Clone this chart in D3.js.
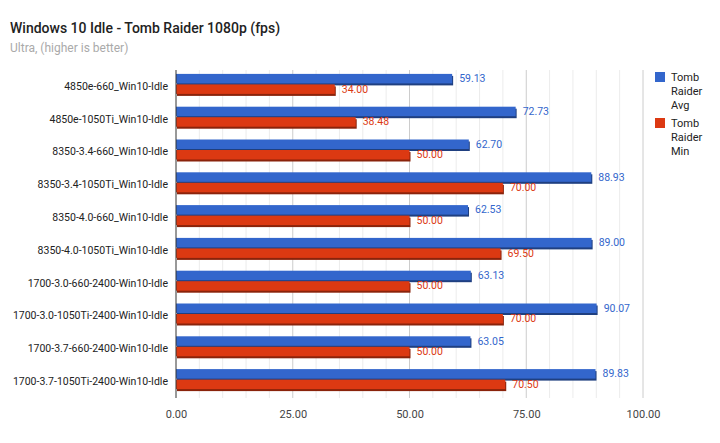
<!DOCTYPE html>
<html><head><meta charset="utf-8">
<script src="https://cdn.jsdelivr.net/npm/d3@7"></script>
<style>body{margin:0;background:#fff;font-family:Roboto,sans-serif}</style>
</head><body><div id="chart"></div>
<script>
const categories = ["4850e-660_Win10-Idle","4850e-1050Ti_Win10-Idle","8350-3.4-660_Win10-Idle","8350-3.4-1050Ti_Win10-Idle","8350-4.0-660_Win10-Idle","8350-4.0-1050Ti_Win10-Idle","1700-3.0-660-2400-Win10-Idle","1700-3.0-1050Ti-2400-Win10-Idle","1700-3.7-660-2400-Win10-Idle","1700-3.7-1050Ti-2400-Win10-Idle"];
const avgValues = [59.13,72.73,62.70,88.93,62.53,89.00,63.13,90.07,63.05,89.83];
const minValues = [34.00,38.48,50.00,70.00,50.00,69.50,50.00,70.00,50.00,70.50];
const xTicks = [0,25,50,75,100];
const series = [
  {name:["Tomb","Raider","Avg"], values:avgValues, fill:"#3366cc", dark:"#1f3f80", text:"#3366cc"},
  {name:["Tomb","Raider","Min"], values:minValues, fill:"#dc3912", dark:"#8a230b", text:"#dc3912"}
];

const W=720,H=443, m={left:176,right:77,top:70,bottom:45};
const svg=d3.select("#chart").append("svg").attr("width",W).attr("height",H);
svg.append("text").attr("x",10).attr("y",33).attr("font-size",14).attr("fill","#222").attr("font-weight",500).text("Windows 10 Idle - Tomb Raider 1080p (fps)");
svg.append("text").attr("x",10).attr("y",52).attr("font-size",12).attr("fill","#aaa").text("Ultra, (higher is better)");

const x=d3.scaleLinear().domain([0,100]).range([m.left,W-m.right]);
const y=d3.scaleBand().domain(categories).range([m.top,H-m.bottom]);
const g=svg.append("g");

// minor grid
g.selectAll(".minor").data(d3.range(5,100,5).filter(v=>v%25)).join("line")
  .attr("x1",d=>x(d)).attr("x2",d=>x(d)).attr("y1",m.top).attr("y2",H-m.bottom)
  .attr("stroke","#ececec");
g.selectAll(".major").data(xTicks.slice(1)).join("line")
  .attr("x1",d=>x(d)).attr("x2",d=>x(d)).attr("y1",m.top).attr("y2",H-m.bottom)
  .attr("stroke","#ccc");

svg.append("g").attr("transform",`translate(0,${H-m.bottom})`)
  .call(d3.axisBottom(x).tickValues(xTicks).tickSize(0).tickPadding(12).tickFormat(d3.format(".2f")))
  .call(a=>{a.select(".domain").remove();a.selectAll("text").attr("fill","#444").attr("font-size",11).attr("font-family","Roboto");});

svg.append("g").attr("transform",`translate(${m.left-4},0)`)
  .call(d3.axisLeft(y).tickSize(0).tickPadding(4))
  .call(a=>{a.select(".domain").remove();a.selectAll("text").attr("fill","#222").attr("font-size",10.5).attr("font-family","Roboto");});

const bh=10.5;
series.forEach((s,si)=>{
  const gg=svg.append("g");
  const top=d=>y(d)+y.bandwidth()/2-bh+si*bh-2;
  gg.selectAll(".sh").data(categories).join("rect")
    .attr("x",x(0)+1).attr("y",d=>top(d)+2)
    .attr("width",(d,i)=>x(s.values[i])-x(0)).attr("height",bh-1).attr("fill",s.dark);
  gg.selectAll(".b").data(categories).join("rect")
    .attr("x",x(0)).attr("y",d=>top(d))
    .attr("width",(d,i)=>x(s.values[i])-x(0)).attr("height",bh-1).attr("fill",s.fill);
  gg.selectAll(".l").data(categories).join("text")
    .attr("x",(d,i)=>x(s.values[i])+7).attr("y",d=>top(d)+bh/2+3)
    .attr("font-size",10.5).attr("fill",s.text).text((d,i)=>s.values[i].toFixed(2));
  const lg=svg.append("g").attr("transform",`translate(655,${72+si*46})`);
  lg.append("rect").attr("width",10).attr("height",10).attr("fill",s.fill);
  s.name.forEach((t,k)=>lg.append("text").attr("x",16).attr("y",9+k*14).attr("font-size",11).attr("fill","#222").text(t));
});
svg.append("line").attr("x1",x(0)).attr("x2",x(0)).attr("y1",m.top).attr("y2",H-m.bottom).attr("stroke","#333");
</script></body></html>
